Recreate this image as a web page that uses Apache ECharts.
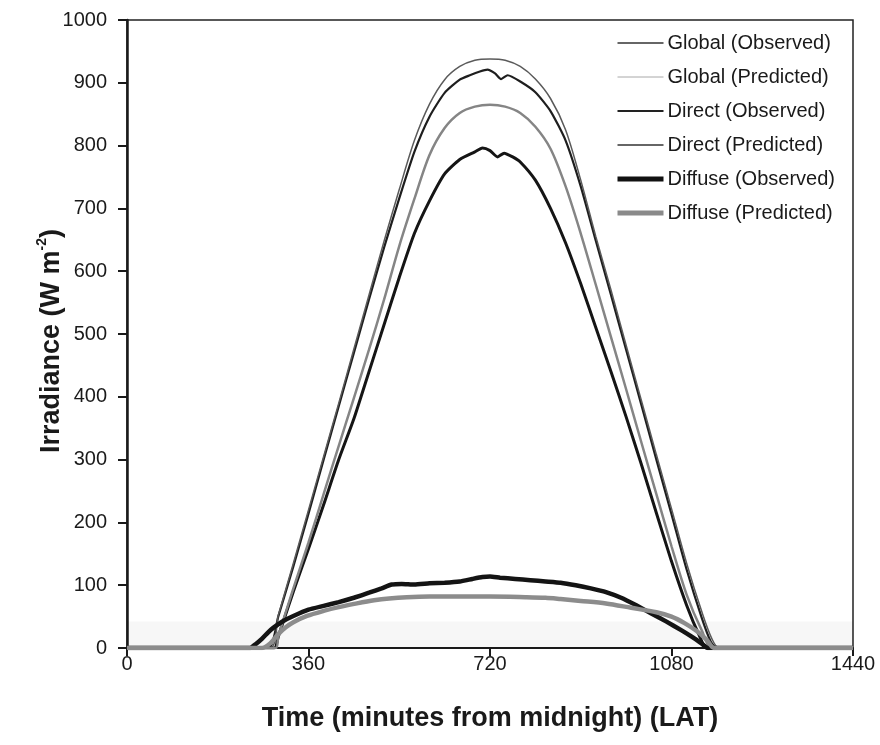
<!DOCTYPE html>
<html>
<head>
<meta charset="utf-8">
<title>Irradiance</title>
<script src="https://cdn.jsdelivr.net/npm/echarts@6/dist/echarts.min.js"></script>
<style>
  html, body { margin: 0; padding: 0; background: #fff; }
  #chart { width: 880px; height: 745px; }
</style>
</head>
<body>
<div id="chart"></div>
<script>
// Time axis ticks (minutes from midnight, LAT)
const xTicks = [0, 360, 720, 1080, 1440];

// Global irradiance, observed
const globalObsT = [0, 280, 300, 330, 360, 390, 420, 450, 480, 510, 540, 570, 600, 630, 660, 680, 700, 715, 730, 742, 755, 780, 810, 840, 870, 900, 930, 960, 990, 1020, 1050, 1080, 1110, 1140, 1158, 1170, 1440];
const globalObsV = [0, 0, 50, 130, 214, 300, 385, 470, 555, 638, 716, 790, 846, 884, 905, 912, 918, 921, 915, 906, 912, 902, 885, 855, 808, 735, 648, 562, 475, 388, 300, 213, 125, 48, 10, 0, 0];

// Global irradiance, predicted
const globalPredT = [0, 282, 300, 330, 360, 390, 420, 450, 480, 510, 540, 570, 600, 630, 660, 690, 720, 750, 780, 810, 840, 870, 900, 930, 960, 990, 1020, 1050, 1080, 1110, 1140, 1160, 1175, 1440];
const globalPredV = [0, 0, 52, 135, 220, 305, 390, 476, 562, 648, 730, 808, 866, 905, 926, 936, 938, 936, 926, 906, 875, 825, 745, 655, 570, 482, 395, 308, 222, 135, 58, 15, 0, 0];

// Direct irradiance, observed
const directObsT = [0, 292, 300, 330, 360, 390, 420, 450, 480, 510, 540, 570, 600, 630, 660, 690, 705, 720, 735, 748, 765, 780, 810, 840, 870, 900, 930, 960, 990, 1020, 1050, 1080, 1110, 1135, 1150, 1440];
const directObsV = [0, 0, 18, 90, 158, 228, 300, 365, 440, 515, 590, 660, 712, 755, 778, 790, 796, 792, 782, 788, 782, 774, 745, 700, 645, 580, 510, 440, 368, 293, 215, 138, 68, 20, 0, 0];

// Direct irradiance, predicted
const directPredT = [0, 295, 300, 330, 360, 390, 420, 450, 480, 510, 540, 570, 600, 630, 660, 690, 720, 750, 780, 810, 840, 870, 900, 930, 960, 990, 1020, 1050, 1080, 1110, 1140, 1162, 1440];
const directPredV = [0, 0, 18, 95, 168, 245, 322, 398, 475, 555, 640, 715, 785, 828, 852, 862, 865, 862, 852, 830, 795, 735, 660, 578, 495, 412, 328, 245, 162, 85, 28, 0, 0];

// Diffuse irradiance, observed
const diffuseObsT = [0, 244, 255, 268, 280, 290, 310, 330, 360, 390, 420, 450, 480, 505, 525, 545, 570, 600, 630, 660, 685, 705, 720, 740, 770, 800, 830, 860, 890, 920, 950, 980, 1010, 1040, 1070, 1100, 1120, 1140, 1152, 1440];
const diffuseObsV = [0, 0, 6, 15, 25, 32, 43, 51, 61, 67, 73, 80, 88, 95, 101, 102, 101, 103, 104, 106, 110, 113, 114, 112, 110, 108, 106, 104, 100, 95, 89, 80, 68, 55, 42, 28, 18, 7, 0, 0];

// Diffuse irradiance, predicted
const diffusePredT = [0, 268, 285, 300, 315, 330, 357, 390, 420, 456, 490, 520, 555, 600, 650, 720, 790, 830, 860, 900, 950, 1000, 1050, 1080, 1105, 1130, 1150, 1165, 1440];
const diffusePredV = [0, 0, 8, 22, 33, 41, 51, 59, 65, 71, 76, 79, 81, 82, 82, 82, 81, 80, 78, 75, 71, 64, 57, 50, 40, 27, 13, 0, 0];

function pairs(ts, vs) { return ts.map((t, i) => [t, vs[i]]); }

const FONT = '"Liberation Sans", Arial, sans-serif';
const INK = '#1a1a1a';

function lineSeries(name, ts, vs, color, width, smooth) {
  return {
    name: name,
    type: 'line',
    data: pairs(ts, vs),
    symbol: 'none',
    smooth: smooth,
    lineStyle: { color: color, width: width },
    itemStyle: { color: color },
    emphasis: { disabled: true },
    animation: false
  };
}

const series = [
  lineSeries('Global (Observed)', globalObsT, globalObsV, '#1e1e1e', 2.2, 0.2),
  lineSeries('Global (Predicted)', globalPredT, globalPredV, '#5a5a5a', 1.5, 0.3),
  lineSeries('Direct (Observed)', directObsT, directObsV, '#151515', 3, 0.2),
  lineSeries('Direct (Predicted)', directPredT, directPredV, '#858585', 2.5, 0.3),
  lineSeries('Diffuse (Observed)', diffuseObsT, diffuseObsV, '#141414', 4.5, 0.15),
  lineSeries('Diffuse (Predicted)', diffusePredT, diffusePredV, '#8c8c8c', 4.5, 0.3)
];

// legend key styles
const legendKeys = [
  { color: '#333333', width: 1.5 },
  { color: '#a8a8a8', width: 1 },
  { color: '#222222', width: 2 },
  { color: '#333333', width: 1.5 },
  { color: '#111111', width: 5 },
  { color: '#8a8a8a', width: 5 }
];

// faint band along the base of the plot
series[0].markArea = {
  silent: true,
  itemStyle: { color: 'rgba(0,0,0,0.03)' },
  data: [[{ coord: [0, 0] }, { coord: [1440, 42] }]]
};

const chart = echarts.init(document.getElementById('chart'), null, { renderer: 'canvas' });
chart.setOption({
  backgroundColor: '#ffffff',
  animation: false,
  textStyle: { fontFamily: FONT },
  grid: {
    left: 127, right: 27, top: 20, bottom: 97,
    show: true, borderColor: '#222', borderWidth: 1.5, backgroundColor: 'transparent'
  },
  legend: {
    orient: 'vertical',
    left: 615,
    top: 33,
    padding: 0,
    itemWidth: 46,
    itemHeight: 14,
    itemGap: 14,
    textStyle: { fontFamily: FONT, fontSize: 20, color: INK, padding: [0, 0, 0, -1] },
    data: series.map((s, i) => ({
      name: s.name,
      lineStyle: { color: legendKeys[i].color, width: legendKeys[i].width },
      itemStyle: { color: legendKeys[i].color, opacity: 0 }
    })),
    selectedMode: false
  },
  xAxis: {
    type: 'value',
    min: 0,
    max: 1440,
    interval: 360,
    name: 'Time (minutes from midnight) (LAT)',
    nameLocation: 'middle',
    nameGap: 57,
    nameMoveOverlap: false,
    nameTextStyle: { fontFamily: FONT, fontSize: 27, fontWeight: 'bold', color: INK },
    axisLine: { show: true, lineStyle: { color: INK, width: 2 } },
    axisTick: { show: true, inside: false, length: 8, lineStyle: { color: INK, width: 2 } },
    axisLabel: {
      margin: 6, fontFamily: FONT, fontSize: 20, color: INK,
      formatter: v => String(v)
    },
    splitLine: { show: false }
  },
  yAxis: {
    type: 'value',
    min: 0,
    max: 1000,
    interval: 100,
    name: '{a|Irradiance (W m}{s|-2}{a|)}',
    nameLocation: 'middle',
    nameGap: 77,
    nameRotate: 90,
    nameMoveOverlap: false,
    nameTextStyle: {
      align: 'center',
      verticalAlign: 'middle',
      padding: [0, 14, 0, 0],
      rich: {
        a: { fontFamily: FONT, fontSize: 27, fontWeight: 'bold', color: INK, lineHeight: 30, verticalAlign: 'bottom' },
        s: { fontFamily: FONT, fontSize: 14, fontWeight: 'bold', color: INK, lineHeight: 30, verticalAlign: 'top', padding: [0, 0, 12, 0] }
      }
    },
    axisLine: { show: true, lineStyle: { color: INK, width: 2.5 } },
    axisTick: { show: true, inside: false, length: 9, lineStyle: { color: INK, width: 2 } },
    axisLabel: { margin: 20, fontFamily: FONT, fontSize: 20, color: INK, formatter: v => String(v) },
    splitLine: { show: false }
  },
  series: series
});
</script>
</body>
</html>
